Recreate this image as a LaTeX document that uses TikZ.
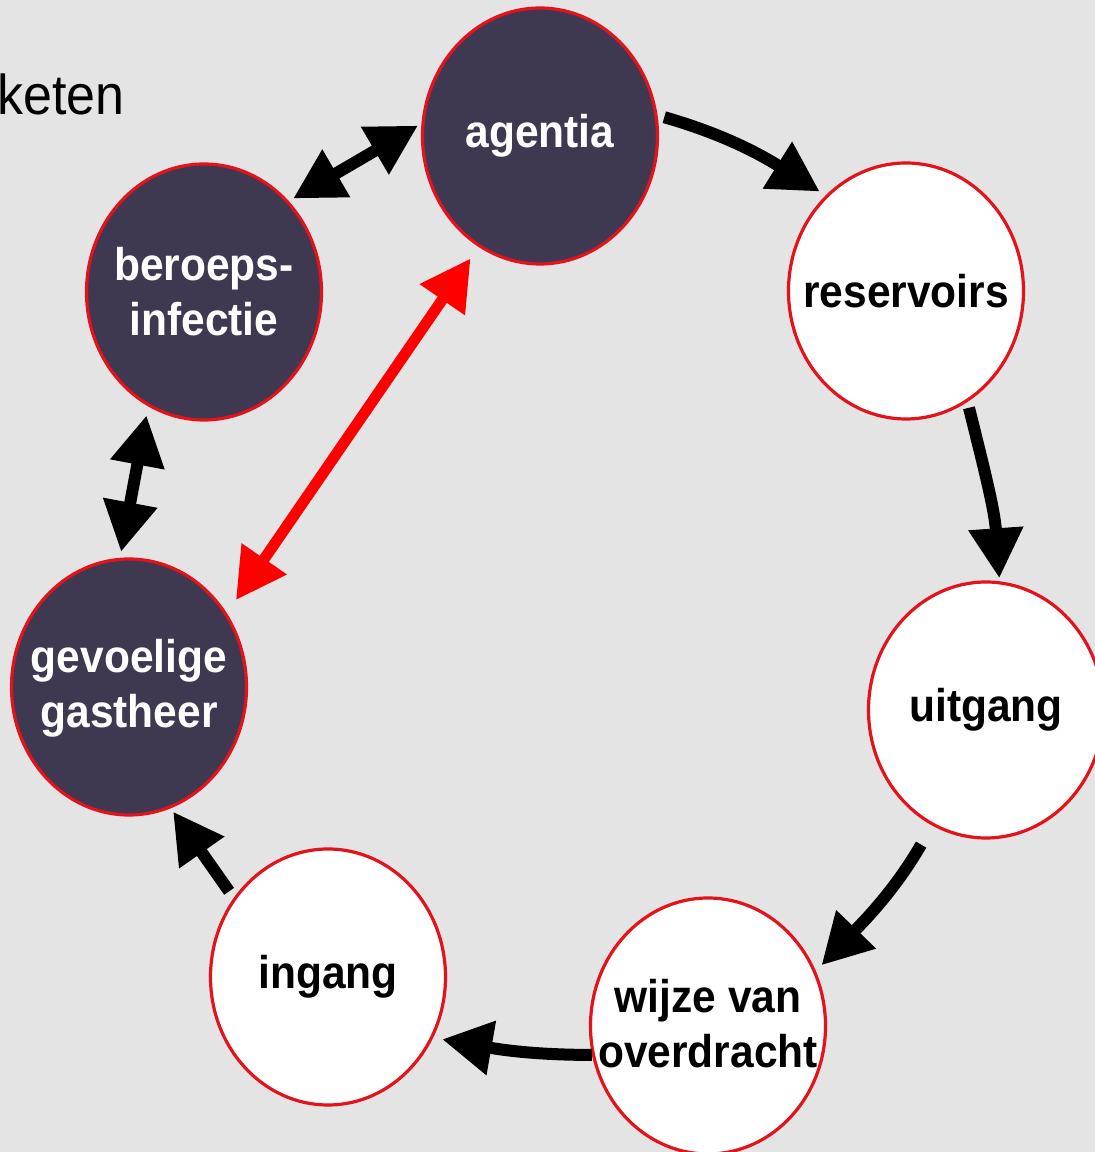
\documentclass[tikz,border=0pt]{standalone}
\usepackage{fontspec}
\setmainfont{Liberation Sans}
\usepackage{graphicx}
\usetikzlibrary{shapes.geometric, arrows.meta}
\definecolor{bg}{HTML}{E4E4E4}
\definecolor{darkfill}{HTML}{3E3850}
\definecolor{ringred}{HTML}{E3121B}
\definecolor{arrowred}{HTML}{FF0000}
\newcommand{\vs}[1]{\scalebox{1}[1.08]{#1}}
\newcommand{\twol}[2]{\vs{\begin{tabular}{@{}c@{}}#1\\#2\end{tabular}}}
\begin{document}
\begin{tikzpicture}[x=1pt,y=1pt,
  cyc/.style={ellipse, minimum width=235pt, minimum height=256pt, inner sep=0pt,
    line width=3.2pt, draw=ringred},
  darkcyc/.style={cyc, fill=darkfill},
  lightcyc/.style={cyc, fill=white},
  lbl/.style={inner sep=0pt, font=\fontsize{42.5}{51}\selectfont\bfseries},
  darklbl/.style={lbl, text=white},
  lightlbl/.style={lbl, text=black},
  tip/.tip={Triangle[length=50pt,width=52pt]},
  flow/.style={line width=12pt, -tip},
  both/.style={line width=12pt, tip-tip},
]
\useasboundingbox (0,0) rectangle (1095,1152);
\fill[bg] (0,0) rectangle (1095,1152);
\clip (0,0) rectangle (1095,1152);

\node[anchor=base west, inner sep=0pt, font=\fontsize{52}{60}\selectfont, text=black] (keten) at (-3,1037) {\vs{keten}};

\node[darkcyc]  (agentia)    at (540,1016) {};
\node[lightcyc] (reservoirs) at (906,861)  {};
\node[lightcyc] (uitgang)    at (986,442)  {};
\node[lightcyc] (wijze)      at (708,126)  {};
\node[lightcyc] (ingang)     at (328,175)  {};
\node[darkcyc]  (gastheer)   at (129,465)  {};
\node[darkcyc]  (beroeps)    at (204,860)  {};

\node[darklbl]  (agentia-t)    at (agentia)    {\vs{agentia}};
\node[lightlbl] (reservoirs-t) at (reservoirs) {\vs{reservoirs}};
\node[lightlbl] (uitgang-t)    at (uitgang)    {\vs{uitgang}};
\node[lightlbl] (wijze-t)      at ([yshift=-3pt]wijze.center) {\twol{wijze van}{overdracht}};
\node[lightlbl] (ingang-t)     at (ingang)     {\vs{ingang}};
\node[darklbl]  (gastheer-t)   at ([yshift=-2pt]gastheer.center) {\twol{gevoelige}{gastheer}};
\node[darklbl]  (beroeps-t)    at ([yshift=-5pt]beroeps.center) {\twol{beroeps-}{infectie}};

\draw[flow, shorten <=7pt, shorten >=7pt] (agentia.10) to[out=-16, in=148] (reservoirs.130);
\draw[flow, shorten <=6pt, shorten >=3pt] (reservoirs.-61) to[out=-76, in=94] (uitgang.84);
\draw[flow, shorten <=22pt, shorten >=8pt] (uitgang.-115) to[out=-120, in=46] (wijze.27);
\draw[flow, shorten <=0pt, shorten >=9pt] (wijze.-166) to[out=180, in=-10] (ingang.-30);
\draw[flow, shorten <=8pt, shorten >=4pt] (ingang.140) -- (gastheer.-71);
\draw[both, shorten <=9pt, shorten >=6pt] (beroeps.-116) -- (gastheer.94);
\draw[both, shorten <=4pt, shorten >=5pt] (agentia.174) -- (beroeps.47);
\draw[both, line width=11pt, draw=arrowred, fill=arrowred, shorten <=14pt, shorten >=16pt] (agentia.-119) -- (gastheer.37);
\end{tikzpicture}
\end{document}
